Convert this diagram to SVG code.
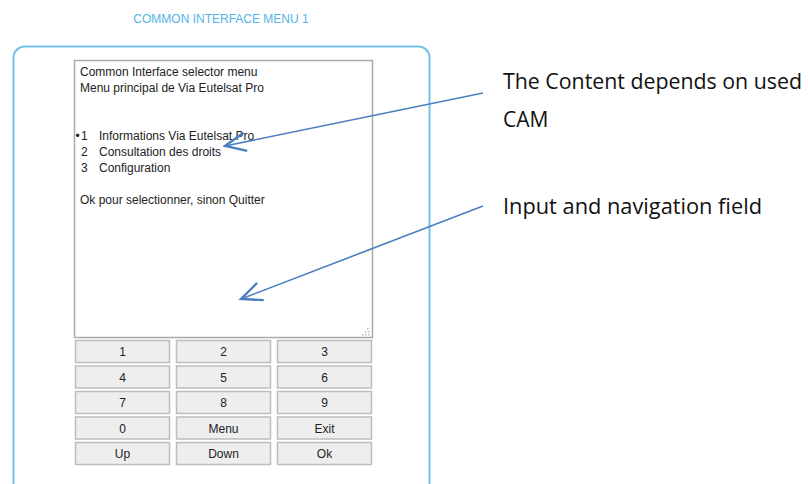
<svg xmlns="http://www.w3.org/2000/svg" width="808" height="484" viewBox="0 0 808 484">
<style>
.t{font-family:"Liberation Sans",Arial,sans-serif;font-size:12px;fill:#222}
.b rect{fill:#eeeeee;stroke:#bdbdbd;stroke-width:1.5}
.b text{font-family:"Liberation Sans",Arial,sans-serif;font-size:12px;fill:#222;text-anchor:middle}
.ann{font-family:"Open Sans","Noto Sans",sans-serif;font-size:21px;fill:#111}
.arr{stroke:#4a7ebf;stroke-width:1.6;fill:none;marker-end:url(#ah)}
</style>
<defs>
<marker id="ah" markerUnits="userSpaceOnUse" markerWidth="30" markerHeight="30" viewBox="-22 -12 26 24" refX="0" refY="0" orient="auto">
<path d="M-18,-8 L0,0 L-18,8" fill="none" stroke="#4a7ebf" stroke-width="2"/>
</marker>
</defs>
<rect width="808" height="484" fill="#ffffff"/>
<text x="221" y="23" text-anchor="middle" style="font-family:'Liberation Sans',Arial,sans-serif;font-size:12px;fill:#55b4e6">COMMON INTERFACE MENU 1</text>
<g id="panel">
<rect x="13.5" y="46.5" width="416" height="450" rx="11" fill="#fff" stroke="#74c2ea" stroke-width="2"/>
</g>
<g id="textarea">
<rect x="74.5" y="60.5" width="298" height="277" fill="#fff" stroke="#aaaaaa" stroke-width="1.5"/>
<g fill="#bbbbbb">
<rect x="367" y="328" width="1.5" height="1.5"/>
<rect x="365" y="331" width="1.5" height="1.5"/><rect x="368" y="331" width="1.5" height="1.5"/>
<rect x="362" y="334" width="1.5" height="1.5"/><rect x="365" y="334" width="1.5" height="1.5"/><rect x="368" y="334" width="1.5" height="1.5"/>
</g>
<text class="t" x="80" y="76">Common Interface selector menu</text>
<text class="t" x="80" y="92">Menu principal de Via Eutelsat Pro</text>
<text class="t" x="75.5" y="140">•</text>
<text class="t" x="81" y="140">1</text>
<text class="t" x="99" y="140">Informations Via Eutelsat Pro</text>
<text class="t" x="81" y="156">2</text>
<text class="t" x="99" y="156">Consultation des droits</text>
<text class="t" x="81" y="172">3</text>
<text class="t" x="99" y="172">Configuration</text>
<text class="t" x="80" y="204">Ok pour selectionner, sinon Quitter</text>
</g>
<g id="keypad" class="b">
<g id="k1"><rect x="75.5" y="340.5" width="94" height="22"/><text x="122.5" y="356">1</text></g>
<g id="k2"><rect x="176.5" y="340.5" width="94" height="22"/><text x="223.5" y="356">2</text></g>
<g id="k3"><rect x="277.5" y="340.5" width="94" height="22"/><text x="324.5" y="356">3</text></g>
<g id="k4"><rect x="75.5" y="366" width="94" height="22"/><text x="122.5" y="381.5">4</text></g>
<g id="k5"><rect x="176.5" y="366" width="94" height="22"/><text x="223.5" y="381.5">5</text></g>
<g id="k6"><rect x="277.5" y="366" width="94" height="22"/><text x="324.5" y="381.5">6</text></g>
<g id="k7"><rect x="75.5" y="391.5" width="94" height="22"/><text x="122.5" y="407">7</text></g>
<g id="k8"><rect x="176.5" y="391.5" width="94" height="22"/><text x="223.5" y="407">8</text></g>
<g id="k9"><rect x="277.5" y="391.5" width="94" height="22"/><text x="324.5" y="407">9</text></g>
<g id="k0"><rect x="75.5" y="417" width="94" height="22"/><text x="122.5" y="432.5">0</text></g>
<g id="kmenu"><rect x="176.5" y="417" width="94" height="22"/><text x="223.5" y="432.5">Menu</text></g>
<g id="kexit"><rect x="277.5" y="417" width="94" height="22"/><text x="324.5" y="432.5">Exit</text></g>
<g id="kup"><rect x="75.5" y="442.5" width="94" height="22"/><text x="122.5" y="458">Up</text></g>
<g id="kdown"><rect x="176.5" y="442.5" width="94" height="22"/><text x="223.5" y="458">Down</text></g>
<g id="kok"><rect x="277.5" y="442.5" width="94" height="22"/><text x="324.5" y="458">Ok</text></g>
</g>
<g id="connectors">
<line class="arr" x1="483" y1="93" x2="225" y2="146"/>
<line class="arr" x1="483" y1="206" x2="241" y2="299"/>
</g>
<g id="label-content">
<text class="ann" x="503" y="89" textLength="299" lengthAdjust="spacingAndGlyphs">The Content depends on used</text>
<text class="ann" x="503" y="127">CAM</text>
</g>
<g id="label-input">
<text class="ann" x="503" y="214" textLength="259" lengthAdjust="spacingAndGlyphs">Input and navigation field</text>
</g>
</svg>
